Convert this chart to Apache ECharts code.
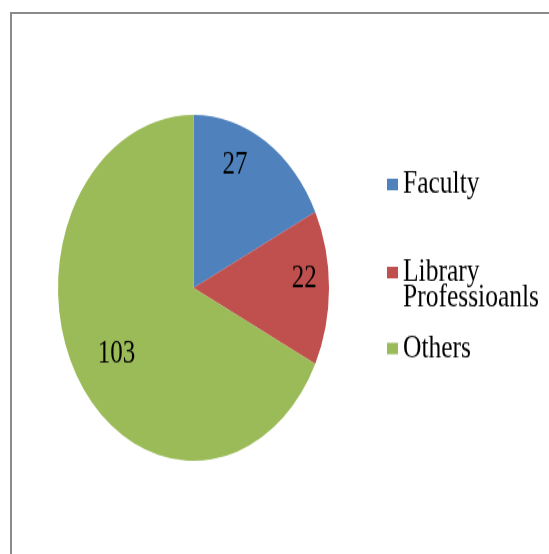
<!DOCTYPE html>
<html>
<head>
<meta charset="utf-8">
<script src="https://cdn.jsdelivr.net/npm/echarts@6/dist/echarts.min.js"></script>
<style>
  html, body { margin: 0; padding: 0; background: #fff; overflow: hidden; }
  .frame {
    position: absolute; left: 10px; top: 12px;
    width: 620px; height: 620px;
    border: 2px solid #8a8a8a;
  }
  /* the picture is stretched vertically, so the chart is too */
  #chart {
    position: absolute; left: 0; top: 0;
    width: 549px; height: 434px;
    transform: scaleY(1.2765); transform-origin: 0 0;
  }
</style>
</head>
<body>
<div class="frame"></div>
<div id="chart"></div>
<script>
// data
const categories = ['Faculty', 'Library\nProfessioanls', 'Others'];
const values = [27, 22, 103];
const colors = ['#4f81bd', '#c0504d', '#9bbb59'];

// label nudges (Excel "best fit" spots)
const labelShift = [[4, -36], [40, -7], [-17, 14]];

let chart = echarts.init(document.getElementById('chart'));

const font = 'Liberation Serif, Times New Roman, serif';
const legendTops = [131.5, 180.5, 260];

let option = {
  animation: false,
  color: colors,
  legend: categories.map((name, i) => ({
    orient: 'vertical',
    left: 387,
    top: legendTops[i],
    padding: 0,
    icon: 'rect',
    itemWidth: 11,
    itemHeight: 9,
    itemGap: 0,
    selectedMode: false,
    data: [name],
    // blank first line so the icon sits next to "Library"
    formatter: n => (n.indexOf('\n') >= 0 ? '\n' + n : n),
    textStyle: {
      fontFamily: font,
      fontSize: 25.5,
      lineHeight: 20,
      color: '#000'
    }
  })),
  series: [{
    type: 'pie',
    center: [193.5, 225.5],
    radius: 135.5,
    startAngle: 90,
    clockwise: true,
    silent: true,
    data: categories.map((c, i) => ({ name: c, value: values[i] })),
    label: {
      show: true,
      position: 'inside',
      formatter: '{c}',
      fontFamily: font,
      fontSize: 25,
      color: '#000'
    },
    labelLayout: function (p) {
      let s = labelShift[p.dataIndex];
      return { dx: s[0], dy: s[1] };
    },
    labelLine: { show: false },
    itemStyle: { borderWidth: 0 }
  }]
};
chart.setOption(option);
</script>
</body>
</html>
